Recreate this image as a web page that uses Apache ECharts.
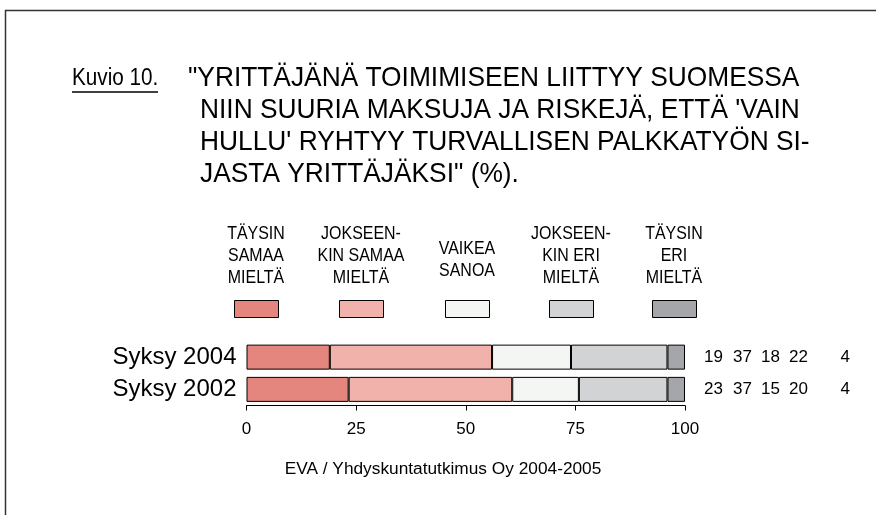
<!DOCTYPE html>
<html><head><meta charset="utf-8">
<script src="https://cdn.jsdelivr.net/npm/echarts@6/dist/echarts.min.js"></script>
<style>html,body{margin:0;padding:0;background:#fff}#c{width:876px;height:515px}</style>
</head><body><div id="c"></div>
<script>
const categories = ['Syksy 2004', 'Syksy 2002'];
const seriesNames = ['TÄYSIN SAMAA MIELTÄ', 'JOKSEENKIN SAMAA MIELTÄ', 'VAIKEA SANOA', 'JOKSEENKIN ERI MIELTÄ', 'TÄYSIN ERI MIELTÄ'];
const legendLabels = [['TÄYSIN','SAMAA','MIELTÄ'], ['JOKSEEN-','KIN SAMAA','MIELTÄ'], ['VAIKEA','SANOA'], ['JOKSEEN-','KIN ERI','MIELTÄ'], ['TÄYSIN','ERI','MIELTÄ']];
const taysinSamaa = [19, 23.3];
const jokseenkinSamaa = [37, 37.3];
const vaikeaSanoa = [18, 15.2];
const jokseenkinEri = [22, 20.2];
const taysinEri = [4, 4];
const printedValues = [['19','37','18','22','4'], ['23','37','15','20','4']];
const xTicks = [0, 25, 50, 75, 100];
const titleLines = ['"YRITTÄJÄNÄ TOIMIMISEEN LIITTYY SUOMESSA', "NIIN SUURIA MAKSUJA JA RISKEJÄ, ETTÄ 'VAIN", "HULLU' RYHTYY TURVALLISEN PALKKATYÖN SI-", 'JASTA YRITTÄJÄKSI" (%).'];
const figureLabel = 'Kuvio 10.';
const sourceText = 'EVA / Yhdyskuntatutkimus Oy 2004-2005';

const colors = ['#E4857E', '#F0B2AA', '#F4F6F4', '#D2D3D5', '#A5A6AA'];
const FONT = "'Liberation Sans', Arial, sans-serif";

const chart = echarts.init(document.getElementById('c'), null, {renderer: 'canvas'});
const values = [taysinSamaa, jokseenkinSamaa, vaikeaSanoa, jokseenkinEri, taysinEri];
const colW = [18, 29, 28, 28, 42];
const rich = {};
colW.forEach((w, k) => { rich['c' + k] = {width: w, align: 'right', fontSize: 17, fontFamily: FONT, color: '#000'}; });

const series = values.map((v, i) => ({
  name: seriesNames[i], type: 'bar', stack: 'total', barWidth: 25, data: v,
  itemStyle: {color: colors[i], borderColor: '#000', borderWidth: 1},
  emphasis: {disabled: true},
  label: i === values.length - 1 ? {
    show: true, position: 'right', distance: 20,
    formatter: p => printedValues[p.dataIndex].map((t, k) => '{c' + k + '|' + t + '}').join(''),
    rich: rich
  } : {show: false}
}));

const legendLeft = [234, 339, 445, 549, 652];
const legends = seriesNames.map((n, i) => ({
  data: [n], left: legendLeft[i], top: 300, itemWidth: 44, itemHeight: 17, icon: 'rect',
  formatter: () => '', selectedMode: false, padding: 0,
  itemStyle: {borderColor: '#000', borderWidth: 1}
}));

const graphic = [
  {type: 'rect', shape: {x: 5.5, y: 10.5, width: 1000, height: 1000}, style: {fill: 'none', stroke: '#333', lineWidth: 1.5}, silent: true},
  {type: 'text', x: 72, y: 79, scaleX: 0.9, style: {text: figureLabel, font: '23px ' + FONT, fill: '#000', textVerticalAlign: 'middle'}},
  {type: 'line', shape: {x1: 72, y1: 92, x2: 158, y2: 92}, style: {stroke: '#000', lineWidth: 1.5}},
  {type: 'text', x: 443, y: 469, style: {text: sourceText, font: '17.3px ' + FONT, fill: '#000', textAlign: 'center', textVerticalAlign: 'middle'}}
];
titleLines.forEach((t, i) => {
  graphic.push({type: 'text', x: i === 0 ? 188 : 200, y: 78 + i * 32, scaleX: 0.94,
    style: {text: t, font: '28px ' + FONT, fill: '#000', textVerticalAlign: 'middle'}});
});
legendLabels.forEach((lines, i) => {
  graphic.push({type: 'text', x: legendLeft[i] + 22, y: lines.length === 3 ? 289 : 282, scaleX: 0.84,
    style: {text: lines.join('\n'), font: '19px ' + FONT, lineHeight: 22, fill: '#000', textAlign: 'center', textVerticalAlign: 'bottom'}});
});

chart.setOption({
  animation: false,
  backgroundColor: '#fff',
  grid: {left: 246.5, right: 191, top: 341, height: 64.5},
  xAxis: {
    type: 'value', min: xTicks[0], max: xTicks[xTicks.length - 1], interval: 25,
    axisLine: {show: true, lineStyle: {color: '#000', width: 1}},
    axisTick: {show: true, length: 5, lineStyle: {color: '#000'}},
    splitLine: {show: false},
    axisLabel: {fontSize: 17, fontFamily: FONT, color: '#000', margin: 15}
  },
  yAxis: {
    type: 'category', data: categories, inverse: true,
    axisLine: {show: false}, axisTick: {show: false},
    axisLabel: {fontSize: 24, fontFamily: FONT, color: '#000', margin: 10}
  },
  legend: legends,
  series: series,
  graphic: graphic
});
</script></body></html>
